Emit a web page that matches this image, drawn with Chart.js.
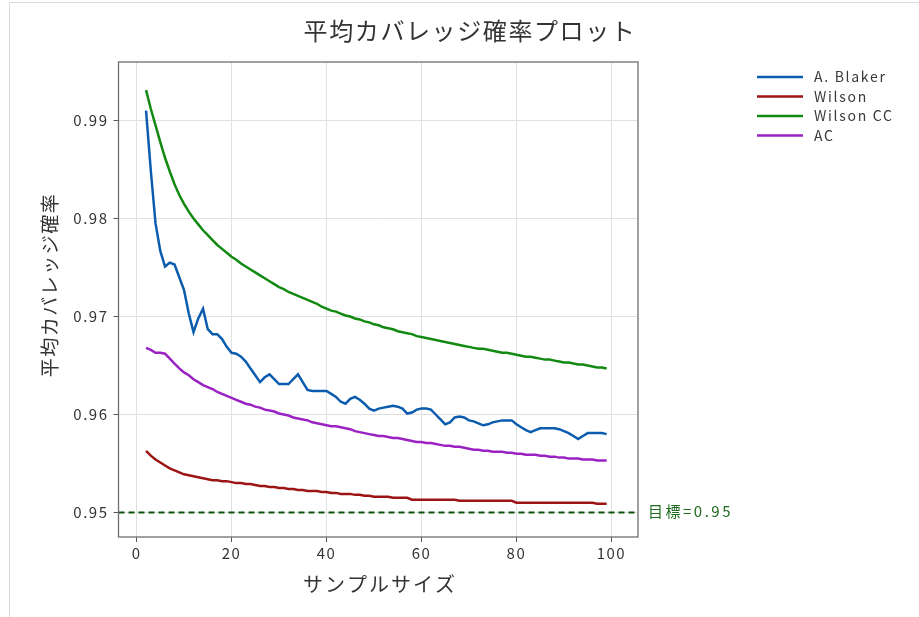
<!DOCTYPE html>
<html>
<head>
<meta charset="utf-8">
<script src="https://cdn.jsdelivr.net/npm/chart.js@4.4.0/dist/chart.umd.min.js"></script>
<style>
  html, body { margin: 0; padding: 0; background: #fff; }
  #wrap { position: relative; width: 919px; height: 617px; }
  #frame { position: absolute; left: 9px; top: 2px; right: 0; bottom: 0;
           border-left: 1px solid #dcdcdc; border-top: 1px solid #dcdcdc; }
  canvas { position: absolute; left: 0; top: 0; }
</style>
</head>
<body>
<div id="wrap">
  <div id="frame"></div>
  <canvas id="chart" width="919" height="617"></canvas>
</div>
<script>
// sample sizes n
const sampleSizes = [
    2, 3, 4, 5, 6, 7, 8, 9, 10, 11,
    12, 13, 14, 15, 16, 17, 18, 19, 20, 21,
    22, 23, 24, 25, 26, 27, 28, 29, 30, 31,
    32, 33, 34, 35, 36, 37, 38, 39, 40, 41,
    42, 43, 44, 45, 46, 47, 48, 49, 50, 51,
    52, 53, 54, 55, 56, 57, 58, 59, 60, 61,
    62, 63, 64, 65, 66, 67, 68, 69, 70, 71,
    72, 73, 74, 75, 76, 77, 78, 79, 80, 81,
    82, 83, 84, 85, 86, 87, 88, 89, 90, 91,
    92, 93, 94, 95, 96, 97, 98, 99
];

const blakerValues = [
    0.9910, 0.9849, 0.9795, 0.9767, 0.9751, 0.9755, 0.9753, 0.9740, 0.9727, 0.9703,
    0.9684, 0.9698, 0.9708, 0.9687, 0.9682, 0.9682, 0.9677, 0.9669, 0.9663, 0.9662,
    0.9659, 0.9654, 0.9647, 0.9640, 0.9633, 0.9638, 0.9641, 0.9636, 0.9631, 0.9631,
    0.9631, 0.9636, 0.9641, 0.9633, 0.9625, 0.9624, 0.9624, 0.9624, 0.9624, 0.9621,
    0.9618, 0.9613, 0.9611, 0.9616, 0.9618, 0.9615, 0.9611, 0.9606, 0.9604, 0.9606,
    0.9607, 0.9608, 0.9609, 0.9608, 0.9606, 0.9601, 0.9602, 0.9605, 0.9606, 0.9606,
    0.9605, 0.9600, 0.9595, 0.9590, 0.9592, 0.9597, 0.9598, 0.9597, 0.9594, 0.9593,
    0.9591, 0.9589, 0.9590, 0.9592, 0.9593, 0.9594, 0.9594, 0.9594, 0.9590, 0.9587,
    0.9584, 0.9582, 0.9584, 0.9586, 0.9586, 0.9586, 0.9586, 0.9585, 0.9583, 0.9581,
    0.9578, 0.9575, 0.9578, 0.9581, 0.9581, 0.9581, 0.9581, 0.9580
];

const wilsonValues = [
    0.9563, 0.9558, 0.9554, 0.9551, 0.9548, 0.9545, 0.9543, 0.9541, 0.9539, 0.9538,
    0.9537, 0.9536, 0.9535, 0.9534, 0.9533, 0.9533, 0.9532, 0.9532, 0.9531, 0.9530,
    0.9530, 0.9529, 0.9529, 0.9528, 0.9527, 0.9527, 0.9526, 0.9526, 0.9525, 0.9525,
    0.9524, 0.9524, 0.9523, 0.9523, 0.9522, 0.9522, 0.9522, 0.9521, 0.9521, 0.9520,
    0.9520, 0.9519, 0.9519, 0.9519, 0.9518, 0.9518, 0.9517, 0.9517, 0.9516, 0.9516,
    0.9516, 0.9516, 0.9515, 0.9515, 0.9515, 0.9515, 0.9513, 0.9513, 0.9513, 0.9513,
    0.9513, 0.9513, 0.9513, 0.9513, 0.9513, 0.9513, 0.9512, 0.9512, 0.9512, 0.9512,
    0.9512, 0.9512, 0.9512, 0.9512, 0.9512, 0.9512, 0.9512, 0.9512, 0.9510, 0.9510,
    0.9510, 0.9510, 0.9510, 0.9510, 0.9510, 0.9510, 0.9510, 0.9510, 0.9510, 0.9510,
    0.9510, 0.9510, 0.9510, 0.9510, 0.9510, 0.9509, 0.9509, 0.9509
];

const wilsonCCValues = [
    0.9931, 0.9912, 0.9895, 0.9878, 0.9862, 0.9848, 0.9835, 0.9824, 0.9815, 0.9807,
    0.9800, 0.9794, 0.9788, 0.9783, 0.9778, 0.9773, 0.9769, 0.9765, 0.9761, 0.9758,
    0.9754, 0.9751, 0.9748, 0.9745, 0.9742, 0.9739, 0.9736, 0.9733, 0.9730, 0.9728,
    0.9725, 0.9723, 0.9721, 0.9719, 0.9717, 0.9715, 0.9713, 0.9710, 0.9708, 0.9706,
    0.9705, 0.9703, 0.9701, 0.9700, 0.9698, 0.9697, 0.9695, 0.9694, 0.9692, 0.9691,
    0.9689, 0.9688, 0.9687, 0.9685, 0.9684, 0.9683, 0.9682, 0.9680, 0.9679, 0.9678,
    0.9677, 0.9676, 0.9675, 0.9674, 0.9673, 0.9672, 0.9671, 0.9670, 0.9669, 0.9668,
    0.9667, 0.9667, 0.9666, 0.9665, 0.9664, 0.9663, 0.9663, 0.9662, 0.9661, 0.9660,
    0.9659, 0.9659, 0.9658, 0.9657, 0.9656, 0.9656, 0.9655, 0.9654, 0.9653, 0.9653,
    0.9652, 0.9651, 0.9651, 0.9650, 0.9649, 0.9648, 0.9648, 0.9647
];

const acValues = [
    0.9668, 0.9666, 0.9663, 0.9663, 0.9662, 0.9657, 0.9652, 0.9647, 0.9643, 0.9640,
    0.9636, 0.9633, 0.9630, 0.9628, 0.9626, 0.9623, 0.9621, 0.9619, 0.9617, 0.9615,
    0.9613, 0.9611, 0.9610, 0.9608, 0.9607, 0.9605, 0.9604, 0.9603, 0.9601, 0.9600,
    0.9599, 0.9597, 0.9596, 0.9595, 0.9594, 0.9592, 0.9591, 0.9590, 0.9589, 0.9588,
    0.9588, 0.9587, 0.9586, 0.9585, 0.9583, 0.9582, 0.9581, 0.9580, 0.9579, 0.9578,
    0.9578, 0.9577, 0.9576, 0.9576, 0.9575, 0.9574, 0.9573, 0.9572, 0.9572, 0.9571,
    0.9571, 0.9570, 0.9569, 0.9568, 0.9568, 0.9567, 0.9567, 0.9566, 0.9565, 0.9564,
    0.9564, 0.9563, 0.9563, 0.9562, 0.9562, 0.9562, 0.9561, 0.9561, 0.9560, 0.9560,
    0.9559, 0.9559, 0.9559, 0.9558, 0.9558, 0.9557, 0.9557, 0.9556, 0.9556, 0.9555,
    0.9555, 0.9555, 0.9554, 0.9554, 0.9554, 0.9553, 0.9553, 0.9553
];

const seriesLabels = ['A. Blaker', 'Wilson', 'Wilson CC', 'AC'];
const seriesColors = ['#0b5cad', '#9c1414', '#128a12', '#9a22c2'];
const xTicks = [0, 20, 40, 60, 80, 100];
const yTicks = [0.95, 0.96, 0.97, 0.98, 0.99];
const target = 0.95;
const targetLabel = '目標=0.95';

const FONT = '"Noto Sans CJK JP", "Noto Sans", sans-serif';
Chart.defaults.font.family = FONT;

const toPoints = (values) => values.map((v, i) => ({ x: sampleSizes[i], y: v }));

// the reference text is set a little loose
const spacingPlugin = {
    id: 'spacing',
    beforeInit(chart) { chart.ctx.letterSpacing = '1.5px'; },
    beforeDraw(chart) { chart.ctx.letterSpacing = '1.5px'; },
};

// title, axis titles, legend, target line, frame
const decorPlugin = {
    id: 'decor',
    beforeDatasetsDraw(chart) {
        const { ctx, chartArea, scales } = chart;
        const y = scales.y.getPixelForValue(target);
        ctx.save();
        ctx.strokeStyle = '#0a530a';
        ctx.lineWidth = 2.2;
        ctx.setLineDash([6, 4]);
        ctx.beginPath();
        ctx.moveTo(chartArea.left, y);
        ctx.lineTo(chartArea.right, y);
        ctx.stroke();
        ctx.restore();
    },
    afterDraw(chart) {
        const { ctx, chartArea, scales } = chart;
        ctx.save();

        // frame
        ctx.strokeStyle = '#6e6e6e';
        ctx.lineWidth = 1.3;
        ctx.strokeRect(chartArea.left, chartArea.top,
            chartArea.right - chartArea.left, chartArea.bottom - chartArea.top);

        ctx.fillStyle = '#333';
        ctx.textAlign = 'center';
        ctx.textBaseline = 'middle';
        ctx.letterSpacing = '1.6px';
        ctx.font = '24px ' + FONT;
        ctx.fillText('平均カバレッジ確率プロット', 470, 31);

        ctx.letterSpacing = '2px';
        ctx.font = '20px ' + FONT;
        ctx.fillText('サンプルサイズ', 380, 584);

        ctx.save();
        ctx.letterSpacing = '1.5px';
        ctx.translate(50, 285);
        ctx.rotate(-Math.PI / 2);
        ctx.font = '19px ' + FONT;
        ctx.fillText('平均カバレッジ確率', 0, 0);
        ctx.restore();

        // target label
        ctx.fillStyle = '#1e6b1e';
        ctx.textAlign = 'left';
        ctx.letterSpacing = '2.5px';
        ctx.font = '15px ' + FONT;
        ctx.fillText(targetLabel, chartArea.right + 10, scales.y.getPixelForValue(target) - 1);

        // legend
        ctx.letterSpacing = '1.7px';
        ctx.font = '14px ' + FONT;
        chart.data.datasets.forEach((ds, i) => {
            const ly = 77 + i * 19.5;
            ctx.strokeStyle = ds.borderColor;
            ctx.lineWidth = 2.6;
            ctx.beginPath();
            ctx.moveTo(757, ly);
            ctx.lineTo(803, ly);
            ctx.stroke();
            ctx.fillStyle = '#3a3a3a';
            ctx.fillText(ds.label, 814, ly);
        });
        ctx.restore();
    }
};

const makeDataset = (label, values, color) => ({
    label: label,
    data: toPoints(values),
    borderColor: color,
    backgroundColor: color,
    borderWidth: 2.5,
    pointRadius: 0,
    tension: 0,
    fill: false,
});

const chartConf = {
    type: 'line',
    data: {
        datasets: [
            makeDataset(seriesLabels[0], blakerValues, seriesColors[0]),
            makeDataset(seriesLabels[1], wilsonValues, seriesColors[1]),
            makeDataset(seriesLabels[2], wilsonCCValues, seriesColors[2]),
            makeDataset(seriesLabels[3], acValues, seriesColors[3]),
        ]
    },
    options: {
        responsive: false,
        animation: false,
        layout: { padding: { left: 0, right: 281, top: 62, bottom: 0 } },
        plugins: {
            legend: { display: false },
            title: { display: false },
            tooltip: { enabled: false },
        },
        scales: {
            x: {
                type: 'linear',
                min: -3.8,
                max: 105.6,
                afterBuildTicks: (s) => { s.ticks = xTicks.map(v => ({ value: v })); },
                afterFit: (s) => { s.height = 80; },
                grid: { color: '#e0e0e0', tickColor: '#555', tickLength: 5, lineWidth: 1 },
                border: { display: false },
                ticks: { color: '#333', font: { size: 15 }, padding: 2, maxRotation: 0 },
            },
            y: {
                type: 'linear',
                min: 0.9475,
                max: 0.99597,
                afterBuildTicks: (s) => { s.ticks = yTicks.map(v => ({ value: v })); },
                afterFit: (s) => { s.width = 118.5; },
                grid: { color: '#e0e0e0', tickColor: '#555', tickLength: 5, lineWidth: 1 },
                border: { display: false },
                ticks: {
                    color: '#333', font: { size: 15 }, padding: 5,
                    callback: (v) => v.toFixed(2),
                },
            },
        },
    },
    plugins: [spacingPlugin, decorPlugin],
};

new Chart(document.getElementById('chart'), chartConf);
</script>
</body>
</html>
